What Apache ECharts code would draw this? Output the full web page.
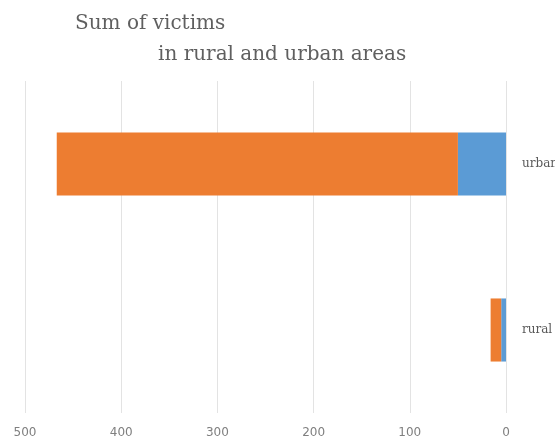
<!DOCTYPE html>
<html>
<head>
<meta charset="utf-8">
<script src="https://cdn.jsdelivr.net/npm/echarts@6/dist/echarts.min.js"></script>
<style>
  html, body { margin: 0; padding: 0; background: #fff; }
  #container { width: 555px; height: 441px; }
</style>
</head>
<body>
<div id="container"></div>
<script>
const categories = ['urban', 'rural'];
const blueValues = [50, 5];
const orangeValues = [417, 11];
const xTicks = { min: 0, max: 500, interval: 100 };

let chart = echarts.init(document.getElementById('container'));

let option = {
  animation: false,
  title: [
    {
      text: 'Sum of victims',
      left: 70,
      top: 9,
      textStyle: { fontFamily: 'DejaVu Serif', fontSize: 20, fontWeight: 'normal', color: '#5f5f5f' },
    },
    {
      text: 'in rural and urban areas',
      left: 153,
      top: 40,
      textStyle: { fontFamily: 'DejaVu Serif', fontSize: 20, fontWeight: 'normal', color: '#5f5f5f' },
    },
  ],
  grid: {
    left: 25,
    right: 49,
    top: 81,
    bottom: 28,
    outerBoundsMode: 'none',
  },
  xAxis: {
    type: 'value',
    inverse: true,
    min: xTicks.min,
    max: xTicks.max,
    interval: xTicks.interval,
    axisLine: { show: false },
    axisTick: { show: false },
    axisLabel: { color: '#7f7f7f', fontSize: 12, fontFamily: 'DejaVu Sans', margin: 14 },
    splitLine: { lineStyle: { color: '#e3e3e3', width: 1 } },
  },
  yAxis: {
    type: 'category',
    position: 'right',
    inverse: true,
    data: categories,
    axisLine: { show: false },
    axisTick: { show: false },
    axisLabel: { color: '#595959', fontSize: 12, fontFamily: 'DejaVu Serif', margin: 16 },
  },
  series: [
    {
      name: 'Series 1',
      type: 'bar',
      stack: 'total',
      barCategoryGap: '62%',
      itemStyle: { color: '#5B9BD5' },
      data: blueValues,
    },
    {
      name: 'Series 2',
      type: 'bar',
      stack: 'total',
      barCategoryGap: '62%',
      itemStyle: { color: '#ED7D31' },
      data: orangeValues,
    },
  ],
};

chart.setOption(option);
</script>
</body>
</html>
